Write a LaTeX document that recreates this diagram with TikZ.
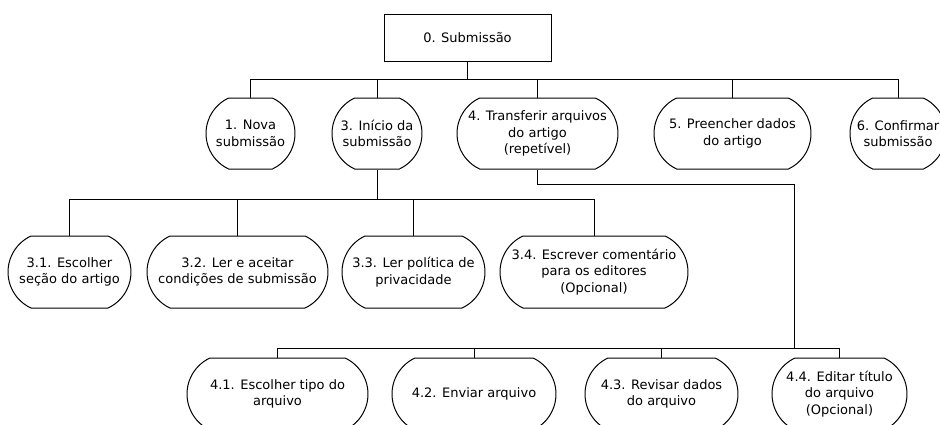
\documentclass[tikz,border=0pt]{standalone}
\usepackage{fontspec}
\setmainfont{DejaVu Sans}
\usetikzlibrary{shapes.misc}
\begin{document}
\begin{tikzpicture}[x=1pt,y=-1pt,
  every node/.style={font=\fontsize{13}{16.5}\selectfont, align=center, inner sep=0pt},
  rootbox/.style={draw, line width=1pt, minimum width=167pt, minimum height=47pt},
  task/.style={draw, line width=1pt, rounded rectangle, rounded rectangle arc length=130,
    minimum height=#1},
  task/.default=71pt,
  link/.style={line width=1pt}]
\useasboundingbox (0,0) rectangle (940,424);
\clip (0,0) rectangle (940,424);

% root
\node[rootbox] (root) at (467.5,37.5) {0. Submissão};

% first level
\node[task, minimum width=89pt]  (n1) at (250.5,133.5) {1. Nova\\submissão};
\node[task, minimum width=90pt]  (n3) at (377,133.5) {3. Início da\\submissão};
\node[task, minimum width=161pt] (n4) at (537.5,133.5) {4. Transferir arquivos\\do artigo\\(repetível)};
\node[task, minimum width=157pt] (n5) at (732.5,133.5) {5. Preencher dados\\do artigo};
\node[task, minimum width=96pt]  (n6) at (898,133.5) {6. Confirmar\\submissão};

% children of 3
\node[task=72pt, minimum width=123pt] (n31) at (69.5,272) {3.1. Escolher\\seção do artigo};
\node[task=72pt, minimum width=181pt] (n32) at (237.5,272) {3.2. Ler e aceitar\\condições de submissão};
\node[task=72pt, minimum width=143pt] (n33) at (413.5,272) {3.3. Ler política de\\privacidade};
\node[task=72pt, minimum width=188pt] (n34) at (594,272) {3.4. Escrever comentário\\para os editores\\(Opcional)};

% children of 4
\node[task=72pt, minimum width=181pt] (n41) at (277.5,394) {4.1. Escolher tipo do\\arquivo};
\node[task=72pt, minimum width=164pt] (n42) at (474,394) {4.2. Enviar arquivo};
\node[task=72pt, minimum width=153pt] (n43) at (661.5,394) {4.3. Revisar dados\\do arquivo};
\node[task=72pt, minimum width=135pt] (n44) at (839.5,394) {4.4. Editar título\\do arquivo\\(Opcional)};

% junction points of the connector buses
\coordinate (b0) at (467.5,79);
\coordinate (b3) at (377,199);
\coordinate (k4) at (794,184);
\coordinate (b4) at (794,348);

% connectors
\draw[link] (root.south) -- (b0);
\foreach \c in {n1,n3,n4,n5,n6} \draw[link] (b0) -| (\c.north);
\draw[link] (n3.south) -- (b3);
\foreach \c in {n31,n32,n33,n34} \draw[link] (b3) -| (\c.north);
\draw[link] (n4.south) |- (k4) -- (b4);
\foreach \c in {n41,n42,n43,n44} \draw[link] (b4) -| (\c.north);
\end{tikzpicture}
\end{document}
